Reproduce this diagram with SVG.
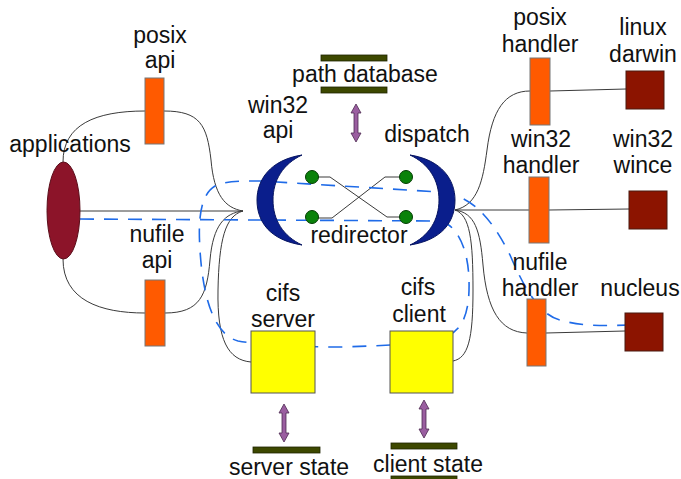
<svg xmlns="http://www.w3.org/2000/svg" width="681" height="479" viewBox="0 0 681 479">
  <style>
    text { font-family: "Liberation Sans", Arial, sans-serif; font-size: 23px; fill: #111; text-anchor: middle; }
    .wire { fill: none; stroke: #3a3a3a; stroke-width: 1; }
    .flow { fill: none; stroke: #1f6be8; stroke-width: 1.6; stroke-dasharray: 14 10; }
    .api { fill: #ff5a00; stroke: #777; stroke-width: 1; }
    .os { fill: #8c1400; stroke: #4a1a10; stroke-width: 1; }
    .cifs { fill: #ffff00; stroke: #555; stroke-width: 1; }
    .store { fill: #3d4800; stroke: #1e2400; stroke-width: 0.8; }
    .bracket { fill: #0a1e8c; stroke: #061460; stroke-width: 1; }
    .dot { fill: #0a820a; stroke: #033d03; stroke-width: 1; }
    .arrow { fill: #9a5ea0; stroke: #4d2a50; stroke-width: 0.8; }
  </style>
  <defs>
    <!-- vertical double-headed arrow, 38px long, origin at top tip -->
    <polygon id="dbl" class="arrow" points="0,0 5,9 2,9 2,29 5,29 0,38 -5,29 -2,29 -2,9 -5,9"/>
  </defs>

  <!-- connectors -->
  <g id="connectors">
    <line class="wire" x1="80" y1="211" x2="243" y2="211"/>
    <path class="wire" d="M63,162 C63,125 95,111 145,111"/>
    <path class="wire" d="M164,111 C200,111 207,125 211,160 C214,195 225,208 243,211"/>
    <path class="wire" d="M63,259 C63,300 100,313 145,313"/>
    <path class="wire" d="M165,313 C200,313 207,295 210,260 C213,225 225,213 243,211"/>
    <path class="wire" d="M243,211 C225,216 219,240 218,290 C217,340 228,360 251,362"/>

    <path class="wire" d="M455,210 C478,205 483,180 487,150 C492,110 505,91 530,91"/>
    <line class="wire" x1="455" y1="210" x2="529" y2="210"/>
    <path class="wire" d="M455,210 C475,213 480,230 483,265 C487,310 500,332 527,333"/>
    <path class="wire" d="M455,210 C470,215 473,240 473,290 C473,340 468,358 453,361"/>

    <line class="wire" x1="550" y1="91" x2="626" y2="89"/>
    <line class="wire" x1="549" y1="210" x2="629" y2="209"/>
    <line class="wire" x1="546" y1="333" x2="625" y2="331"/>

    <polyline class="wire" points="317,177 330,177 387,217 402,217"/>
    <polyline class="wire" points="317,218 332,218 385,177 400,177"/>

    <use href="#dbl" x="356" y="104"/>
    <use href="#dbl" x="284" y="404"/>
    <use href="#dbl" x="424" y="400"/>

    <!-- request flow -->
    <path class="flow" d="M80,219 L440,221 C455,224 468,245 469,280 C470,315 462,333 440,339 C420,344 380,346 340,347 C300,347 260,345 238,341 C215,335 203,300 200,250 C198,220 200,195 215,186 C225,181 240,181 260,181 L440,192 C470,195 490,215 510,255 C525,290 540,315 560,320 C580,326 600,326 630,325"/>
  </g>

  <g id="applications">
    <ellipse cx="63.5" cy="210.5" rx="16.5" ry="48.5" fill="#8c1429" stroke="#5a0d1a" stroke-width="1"/>
    <text x="70" y="152">applications</text>
  </g>

  <g id="posix-api">
    <rect class="api" x="145" y="78" width="19" height="66"/>
    <text x="160" y="43">posix</text>
    <text x="160" y="68">api</text>
  </g>

  <g id="nufile-api">
    <rect class="api" x="145" y="280" width="20" height="66"/>
    <text x="157" y="242">nufile</text>
    <text x="157" y="268">api</text>
  </g>

  <g id="win32-api">
    <path class="bracket" d="M302,155 C270,160 257,180 257,200 C257,222 270,240 302,245 C283,236 273,220 273,200 C273,180 283,164 302,155 Z"/>
    <text x="278" y="113">win32</text>
    <text x="278" y="138">api</text>
  </g>

  <g id="dispatch">
    <path class="bracket" d="M410,155 C442,160 455,180 455,200 C455,222 442,240 410,245 C429,236 439,220 439,200 C439,180 429,164 410,155 Z"/>
    <text x="427" y="142">dispatch</text>
  </g>

  <g id="redirector">
    <circle class="dot" cx="312" cy="177" r="6.5"/>
    <circle class="dot" cx="312" cy="217" r="6.5"/>
    <circle class="dot" cx="406" cy="177" r="6.5"/>
    <circle class="dot" cx="406" cy="217" r="6.5"/>
    <text x="359" y="243">redirector</text>
  </g>

  <g id="path-database">
    <rect class="store" x="321" y="55" width="66" height="6"/>
    <rect class="store" x="321" y="87" width="66" height="6"/>
    <text x="365" y="82">path database</text>
  </g>

  <g id="posix-handler">
    <rect class="api" x="530" y="58" width="20" height="67"/>
    <text x="540" y="25">posix</text>
    <text x="540" y="52">handler</text>
  </g>

  <g id="win32-handler">
    <rect class="api" x="529" y="177" width="20" height="66"/>
    <text x="541" y="147">win32</text>
    <text x="541" y="173">handler</text>
  </g>

  <g id="nufile-handler">
    <rect class="api" x="527" y="299" width="19" height="67"/>
    <text x="540" y="270">nufile</text>
    <text x="540" y="296">handler</text>
  </g>

  <g id="linux-darwin">
    <rect class="os" x="626" y="71" width="38" height="38"/>
    <text x="643" y="35">linux</text>
    <text x="643" y="62">darwin</text>
  </g>

  <g id="win32-wince">
    <rect class="os" x="629" y="191" width="38" height="38"/>
    <text x="643" y="147">win32</text>
    <text x="643" y="173">wince</text>
  </g>

  <g id="nucleus">
    <rect class="os" x="625" y="313" width="38" height="38"/>
    <text x="640" y="296">nucleus</text>
  </g>

  <g id="cifs-server">
    <rect class="cifs" x="251" y="331" width="64" height="62"/>
    <text x="283" y="301">cifs</text>
    <text x="283" y="327">server</text>
  </g>

  <g id="cifs-client">
    <rect class="cifs" x="390" y="331" width="63" height="62"/>
    <text x="418" y="295">cifs</text>
    <text x="419" y="322">client</text>
  </g>

  <g id="server-state">
    <rect class="store" x="253" y="447" width="67" height="6"/>
    <text x="289" y="475">server state</text>
  </g>

  <g id="client-state">
    <rect class="store" x="391" y="443" width="66" height="6"/>
    <rect class="store" x="391" y="476" width="66" height="6"/>
    <text x="428" y="472">client state</text>
  </g>
</svg>
